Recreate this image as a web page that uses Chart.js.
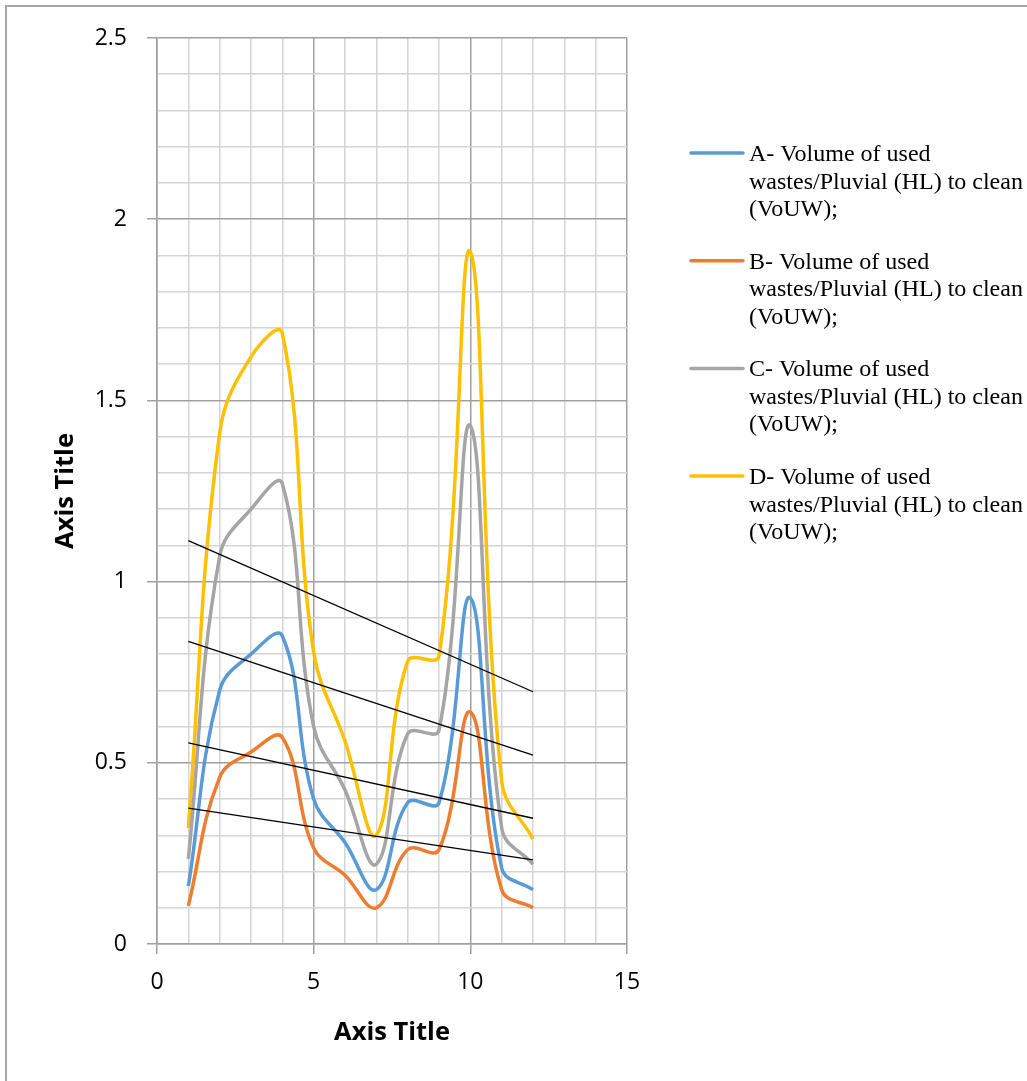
<!DOCTYPE html>
<html>
<head>
<meta charset="utf-8">
<script src="https://cdn.jsdelivr.net/npm/chart.js@4/dist/chart.umd.min.js"></script>
<style>
  html, body { margin: 0; padding: 0; background: #fff; }
  canvas { display: block; }
</style>
</head>
<body>
<canvas id="chart" width="1027" height="1081"></canvas>
<script>
// x positions of the points
const xValues = [1, 2, 3, 4, 5, 6, 7, 8, 9, 10, 11, 12];

// series values
const seriesA = [0.16, 0.70, 0.80, 0.85, 0.40, 0.28, 0.15, 0.39, 0.39, 0.955, 0.21, 0.15];
const seriesB = [0.105, 0.46, 0.53, 0.57, 0.265, 0.19, 0.10, 0.26, 0.26, 0.64, 0.15, 0.10];
const seriesC = [0.235, 1.07, 1.20, 1.27, 0.60, 0.425, 0.22, 0.58, 0.59, 1.43, 0.32, 0.22];
const seriesD = [0.32, 1.41, 1.62, 1.685, 0.805, 0.56, 0.30, 0.78, 0.795, 1.91, 0.45, 0.29];

// linear trend lines, start (x=1) and end (x=12)
const trendX = [1, 12];
const trendA = [0.555, 0.347];
const trendB = [0.375, 0.232];
const trendC = [0.835, 0.521];
const trendD = [1.113, 0.696];

const seriesLabels = [
  'A- Volume of used wastes/Pluvial (HL) to clean (VoUW);',
  'B- Volume of used wastes/Pluvial (HL) to clean (VoUW);',
  'C- Volume of used wastes/Pluvial (HL) to clean (VoUW);',
  'D- Volume of used wastes/Pluvial (HL) to clean (VoUW);'
];
const colors = ['#5B9BD5', '#ED7D31', '#A5A5A5', '#FFC000'];

const toPoints = (xs, ys) => xs.map((x, i) => ({ x, y: ys[i] }));

function series(label, values, color) {
  return {
    label,
    data: toPoints(xValues, values),
    borderColor: color,
    backgroundColor: color,
    borderWidth: 3.5,
    pointRadius: 0,
    tension: 0.4,
    fill: false,
    order: 2
  };
}

function trend(values) {
  return {
    label: '',
    data: toPoints(trendX, values),
    borderColor: '#000',
    borderWidth: 1.3,
    pointRadius: 0,
    tension: 0,
    fill: false,
    order: 1,
    isTrend: true
  };
}

const isMajorY = v => Math.abs(v * 2 - Math.round(v * 2)) < 1e-6;
const isMajorX = v => Math.abs(v % 5) < 1e-6;

// frame around the whole chart and the wrapped legend on the right
const decorPlugin = {
  id: 'decor',
  beforeDraw(chart) {
    const ctx = chart.ctx;
    ctx.save();
    ctx.fillStyle = '#fff';
    ctx.fillRect(0, 0, chart.width, chart.height);
    ctx.fillStyle = '#a6a6a6';
    ctx.fillRect(5, 5, chart.width, 2);
    ctx.fillRect(5, 5, 2, chart.height);
    ctx.restore();
  },
  afterDraw(chart) {
    const ctx = chart.ctx;
    ctx.save();
    ctx.font = '24px "Liberation Serif", "Times New Roman", serif';
    ctx.fillStyle = '#000';
    ctx.textBaseline = 'alphabetic';
    const maxWidth = 285;
    const lineHeight = 27.5;
    let baseline = 161;
    chart.data.datasets.filter(ds => !ds.isTrend).forEach(ds => {
      ctx.strokeStyle = ds.borderColor;
      ctx.lineWidth = 3.5;
      ctx.lineCap = 'round';
      ctx.beginPath();
      ctx.moveTo(691, baseline - 8);
      ctx.lineTo(743, baseline - 8);
      ctx.stroke();
      const words = ds.label.split(' ');
      const lines = [];
      let line = '';
      for (const word of words) {
        const test = line ? line + ' ' + word : word;
        if (line && ctx.measureText(test).width > maxWidth) {
          lines.push(line);
          line = word;
        } else line = test;
      }
      if (line) lines.push(line);
      lines.forEach((l, i) => ctx.fillText(l, 749, baseline + i * lineHeight));
      baseline += 107.7;
    });
    ctx.restore();
  }
};

const tickFont = { family: '"Open Sans", "Noto Sans", sans-serif', size: 23 };
const titleFont = { family: '"Open Sans", "Noto Sans", sans-serif', size: 25.5, weight: 'bold' };

new Chart(document.getElementById('chart'), {
  type: 'line',
  data: {
    datasets: [
      series(seriesLabels[0], seriesA, colors[0]),
      series(seriesLabels[1], seriesB, colors[1]),
      series(seriesLabels[2], seriesC, colors[2]),
      series(seriesLabels[3], seriesD, colors[3]),
      trend(trendA),
      trend(trendB),
      trend(trendC),
      trend(trendD)
    ]
  },
  options: {
    responsive: false,
    animation: false,
    devicePixelRatio: 1,
    layout: { padding: { left: 0, top: 38, right: 400, bottom: 0 } },
    plugins: {
      legend: { display: false },
      tooltip: { enabled: false }
    },
    scales: {
      x: {
        type: 'linear',
        min: 0,
        max: 15,
        afterFit: scale => { scale.height = 137; },
        ticks: {
          stepSize: 1,
          autoSkip: false,
          maxRotation: 0,
          padding: 15,
          color: '#000',
          font: tickFont,
          callback: v => (isMajorX(v) ? String(v) : '')
        },
        grid: {
          color: ctx => (isMajorX(ctx.tick.value) ? '#a0a0a0' : '#d4d4d4'),
          lineWidth: 1.5,
          tickLength: 10,
          tickColor: ctx => (isMajorX(ctx.tick.value) ? '#a0a0a0' : 'rgba(0,0,0,0)')
        },
        border: { color: '#a0a0a0', width: 1.5 },
        title: {
          display: true,
          text: 'Axis Title',
          color: '#000',
          font: titleFont,
          padding: { top: 0, bottom: 33 }
        }
      },
      y: {
        min: 0,
        max: 2.5,
        afterFit: scale => { scale.width = 157; },
        ticks: {
          stepSize: 0.1,
          autoSkip: false,
          padding: 20,
          color: '#000',
          font: tickFont,
          callback: v => (isMajorY(v) ? String(Math.round(v * 10) / 10) : '')
        },
        grid: {
          color: ctx => (isMajorY(ctx.tick.value) ? '#a0a0a0' : '#d4d4d4'),
          lineWidth: 1.5,
          tickLength: 10,
          tickColor: ctx => (isMajorY(ctx.tick.value) ? '#a0a0a0' : 'rgba(0,0,0,0)')
        },
        border: { color: '#a0a0a0', width: 1.5 },
        title: {
          display: true,
          text: 'Axis Title',
          color: '#000',
          font: titleFont,
          padding: { top: 50, bottom: 0 }
        }
      }
    }
  },
  plugins: [decorPlugin]
});
</script>
</body>
</html>
